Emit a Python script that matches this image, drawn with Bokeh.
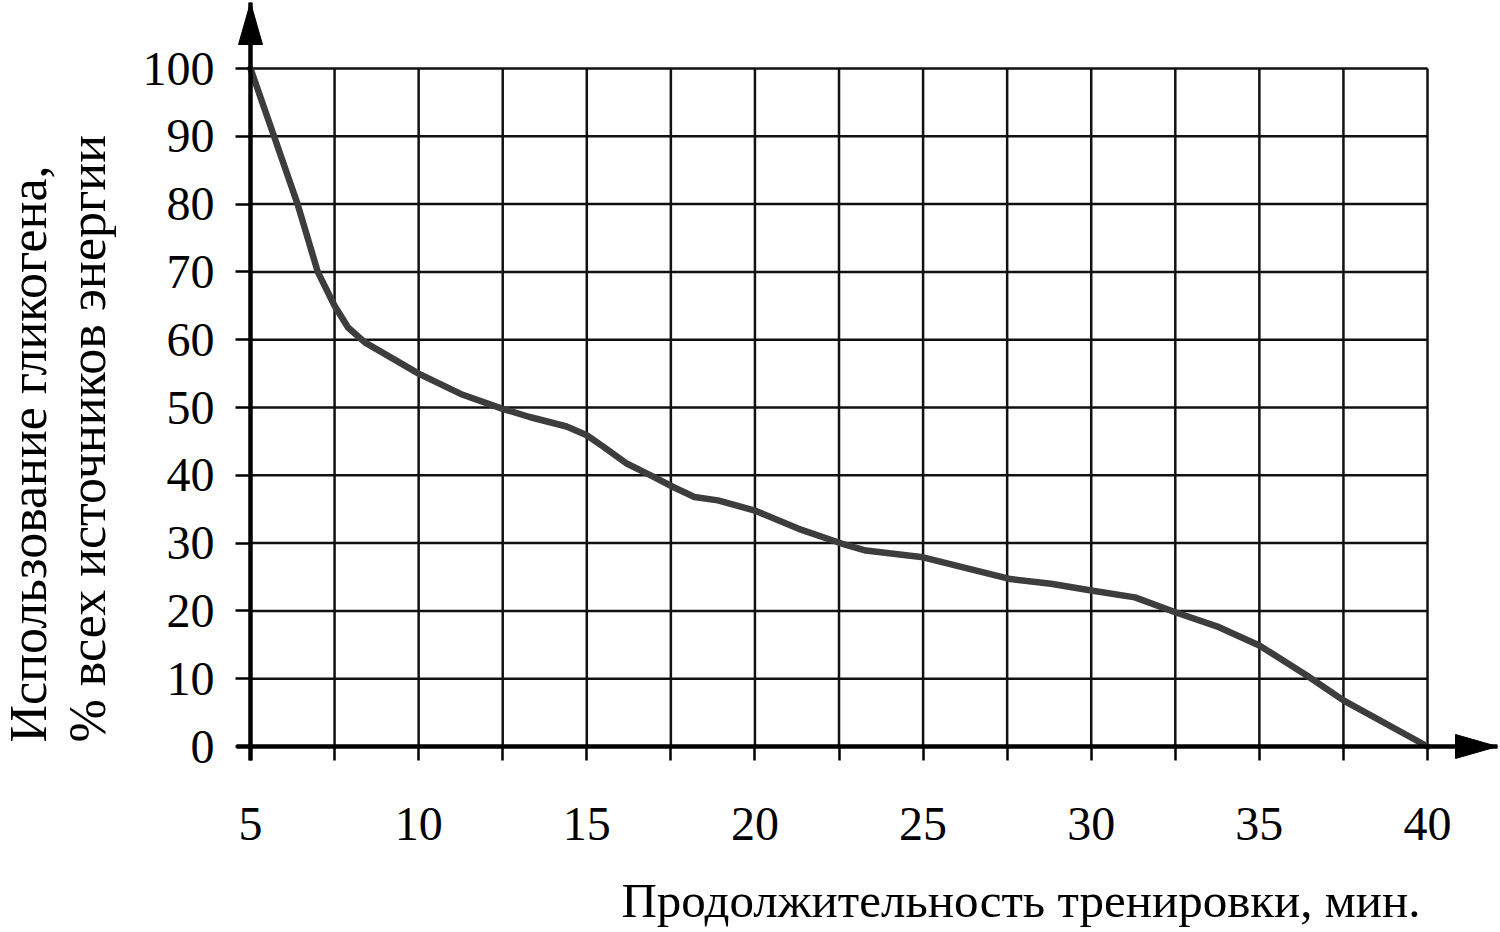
import numpy as np
from bokeh.plotting import figure
from bokeh.models import Range1d, FixedTicker
from bokeh.core.properties import value
from bokeh.embed import file_html
from bokeh.resources import INLINE

# ---- data ----
minutes = [5, 5.7, 6.4, 7.0, 7.5, 7.9, 8.4, 10, 11.25, 12.5, 13.3, 14.4, 15, 15.5, 16.2,
           16.9, 17.6, 18.2, 18.9, 20, 21.3, 22.6, 23.3, 25, 27.6, 28.8, 30, 31.3, 32.5,
           33.8, 35, 36.4, 37.5, 40]
glycogen = [100, 90, 80, 70, 65, 61.8, 59.6, 55, 52, 49.8, 48.6, 47.2, 45.9, 44.2, 41.7,
            40.0, 38.2, 36.8, 36.3, 34.8, 32.1, 29.9, 28.9, 27.9, 24.7, 24, 23, 22, 19.8,
            17.6, 14.9, 10.5, 6.8, 0]

x_ticks = [5, 10, 15, 20, 25, 30, 35, 40]
x_minor = [7.5, 12.5, 17.5, 22.5, 27.5, 32.5, 37.5]
y_ticks = [0, 10, 20, 30, 40, 50, 60, 70, 80, 90, 100]
grid_x = [7.5, 10, 12.5, 15, 17.5, 20, 22.5, 25, 27.5, 30, 32.5, 35, 37.5, 40]
grid_y = [10, 20, 30, 40, 50, 60, 70, 80, 90, 100]

x_title = "Продолжительность тренировки, мин."
y_title_1 = "Использование гликогена,"
y_title_2 = "% всех источников энергии"

# ---- layout: the frame fills the whole canvas ----
W, H = 1500, 932
XMIN, XMAX_DATA = 5, 40
YMIN, YMAX_DATA = 0, 100
ORIGIN_PX = (250, 746)   # where (5, 0) sits on the canvas
XSCALE = 33.629          # px per minute
YSCALE = 6.78            # px per percent


def px2x(px):
    return XMIN + (px - ORIGIN_PX[0]) / XSCALE


def px2y(py):
    return YMIN + (ORIGIN_PX[1] - py) / YSCALE


FONT = "Liberation Serif"

p = figure(width=W, height=H,
           x_range=Range1d(px2x(0), px2x(W)), y_range=Range1d(px2y(H), px2y(0)),
           output_backend="svg", toolbar_location=None,
           min_border_left=0, min_border_right=0, min_border_top=0, min_border_bottom=0)
p.outline_line_color = None
p.grid.visible = False
p.background_fill_color = "white"
p.border_fill_color = "white"

tip_x = px2x(1497)
tip_y = px2y(2)

# axes, fixed at the data origin
xax = p.xaxis[0]
yax = p.yaxis[0]
xax.fixed_location = YMIN
yax.fixed_location = XMIN
xax.bounds = (px2x(236), tip_x)
yax.bounds = (px2y(760), tip_y)
for ax in (xax, yax):
    ax.axis_line_width = 4.5
    ax.axis_line_color = "black"
    ax.major_tick_line_color = "black"
    ax.major_tick_line_width = 2.5
    ax.major_tick_in = 0
    ax.major_label_text_font = FONT
    ax.major_label_text_font_size = "48px"
    ax.major_label_text_color = "black"

xax.ticker = FixedTicker(ticks=x_ticks, minor_ticks=x_minor)
xax.major_tick_out = 14
xax.minor_tick_out = 14
xax.minor_tick_in = 0
xax.minor_tick_line_color = "black"
xax.minor_tick_line_width = 2.5
xax.major_label_standoff = 47

yax.ticker = FixedTicker(ticks=y_ticks)
yax.major_tick_out = 15
yax.minor_tick_out = 0
yax.major_label_standoff = 21

# grid as a closed box of lines
p.segment(x0=[XMIN] * len(grid_y), y0=grid_y, x1=[XMAX_DATA] * len(grid_y), y1=grid_y,
          line_color="#111111", line_width=2.5)
p.segment(x0=grid_x, y0=[YMIN] * len(grid_x), x1=grid_x, y1=[YMAX_DATA] * len(grid_x),
          line_color="#111111", line_width=2.5)

# curve
p.line(minutes, glycogen, line_color="#3d3d3d", line_width=6.5, line_join="round",
       line_cap="round")

# arrow heads
hl, hw = 42, 12
p.patch([XMIN - hw / XSCALE, XMIN, XMIN + hw / XSCALE],
        [tip_y - hl / YSCALE, tip_y, tip_y - hl / YSCALE], color="black")
p.patch([tip_x - hl / XSCALE, tip_x, tip_x - hl / XSCALE],
        [hw / YSCALE, 0, -hw / YSCALE], color="black")

# titles
p.text(x=[px2x(1420)], y=[px2y(900)], text=[x_title], text_align="right",
       text_baseline="alphabetic", text_font=value(FONT), text_font_size="49px",
       text_color="black")
p.text(x=[px2x(28), px2x(87)], y=[px2y(742), px2y(742)], text=[y_title_1, y_title_2],
       angle=np.pi / 2, text_align="left", text_baseline="alphabetic",
       text_font=value(FONT), text_font_size="52px", text_color="black")

open("out.html", "w").write(file_html(p, INLINE))
